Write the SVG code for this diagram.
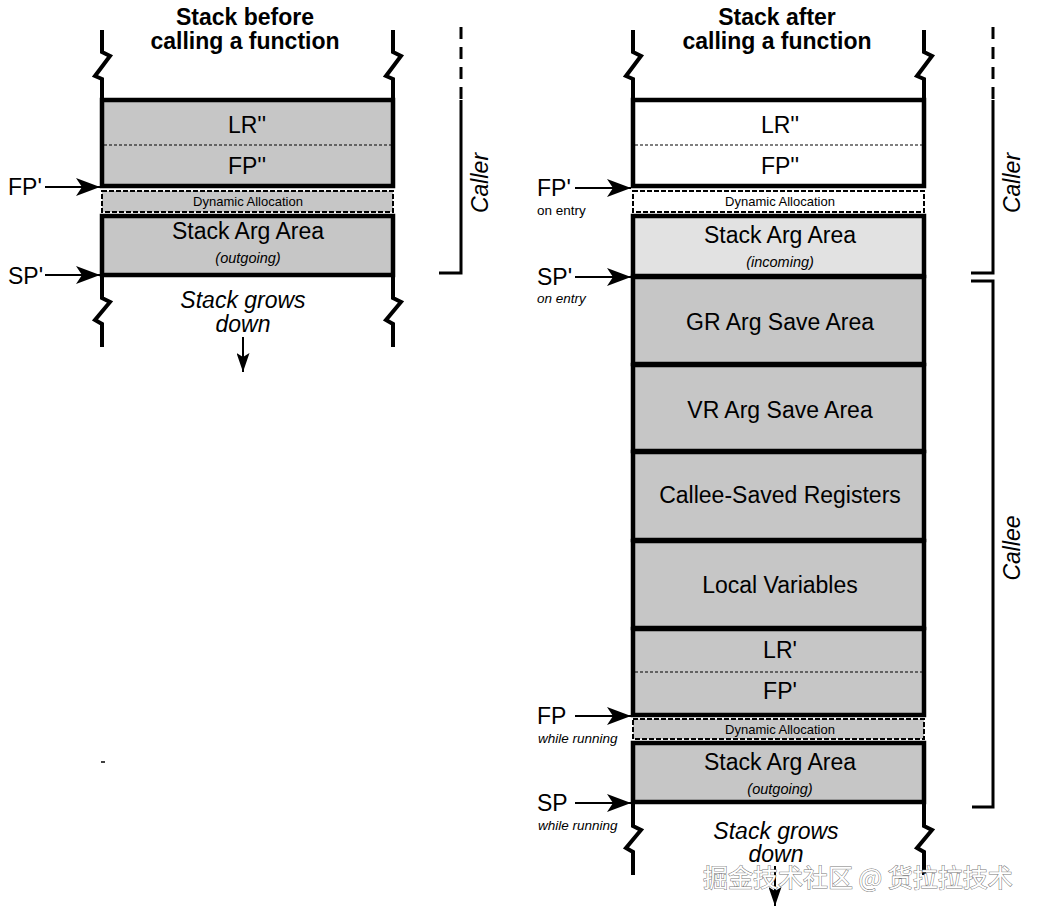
<svg xmlns="http://www.w3.org/2000/svg" width="1038" height="915" viewBox="0 0 1038 915">
<defs>
<style>
.t{font-family:"Liberation Sans",Arial,sans-serif;fill:#000}
.blk{stroke:#000;stroke-width:4.5}
.g{fill:#c6c6c6}
.lg{fill:#e2e2e2}
.w{fill:#fff}
.dyn{stroke:#000;stroke-width:2;stroke-dasharray:5 2}
.div{stroke:#000;stroke-width:1.2;stroke-dasharray:3 2;fill:none}
.wall{fill:none;stroke:#000;stroke-width:4}
.br{fill:none;stroke:#000;stroke-width:3}
.lbl{font-size:23px;text-anchor:middle}
.dl{font-size:13px;text-anchor:middle}
.sub{font-size:14.5px;text-anchor:middle;font-style:italic}
.ttl{font-size:23px;font-weight:bold;text-anchor:middle}
.ptr{font-size:23px}
.sm{font-size:13.5px}
.arr{stroke:#000;stroke-width:2;fill:none}
</style>
<marker id="ah" viewBox="0 0 24 18" refX="24" refY="9" markerWidth="24" markerHeight="18" markerUnits="userSpaceOnUse" orient="auto">
<path d="M0,0 L24,9 L0,18 L6,9 Z" fill="#000"/>
</marker>
<marker id="ahs" viewBox="0 0 13 19" refX="6.5" refY="19" markerWidth="13" markerHeight="19" markerUnits="userSpaceOnUse" orient="0">
<path d="M0,0 L6.5,4 L13,0 L6.5,19 Z" fill="#000"/>
</marker>
</defs>
<rect width="1038" height="915" fill="#fff"/>

<!-- Titles -->
<g id="title-before">
<text class="t ttl" x="245" y="25">Stack before</text>
<text class="t ttl" x="245" y="49">calling a function</text>
</g>
<g id="title-after">
<text class="t ttl" x="777" y="25">Stack after</text>
<text class="t ttl" x="777" y="49">calling a function</text>
</g>

<!-- Left stack walls -->
<g id="left-walls">
<path class="wall" d="M102,30 V52 L110,56 L95,76 L102,79 V100"/>
<path class="wall" d="M393,30 V52 L401,56 L386,76 L393,79 V100"/>
<path class="wall" d="M102,275 V298 L110,302 L95,320 L102,324 V347"/>
<path class="wall" d="M393,275 V298 L401,302 L386,320 L393,324 V347"/>
</g>

<g id="left-lr-fp">
<rect class="blk g" x="102" y="100" width="291" height="86"/>
<line class="div" x1="104" y1="145" x2="391" y2="145"/>
<text class="t lbl" x="247" y="133">LR''</text>
<text class="t lbl" x="247" y="174">FP''</text>
</g>
<g id="left-dyn">
<rect class="dyn g" x="102" y="191" width="291" height="21"/>
<text class="t dl" x="248" y="206">Dynamic Allocation</text>
</g>
<g id="left-stackarg">
<rect class="blk g" x="102" y="216" width="291" height="59"/>
<text class="t lbl" x="248" y="239">Stack Arg Area</text>
<text class="t sub" x="248" y="263">(outgoing)</text>
</g>

<g id="left-grows">
<text class="t lbl" x="243" y="308" font-style="italic">Stack grows</text>
<text class="t lbl" x="243" y="332" font-style="italic">down</text>
</g>

<g id="left-fp-label"><text class="t ptr" x="8" y="195">FP'</text></g>
<g id="left-sp-label"><text class="t ptr" x="8" y="284">SP'</text></g>

<g id="left-caller">
<text class="t ptr" font-style="italic" text-anchor="middle" transform="translate(488,183) rotate(-90)">Caller</text>
</g>

<!-- Right stack walls -->
<g id="right-walls">
<path class="wall" d="M633,30 V52 L641,56 L626,76 L633,79 V100"/>
<path class="wall" d="M924,30 V52 L932,56 L917,76 L924,79 V100"/>
<path class="wall" d="M633,802 V826 L641,830 L626,848 L633,852 V875"/>
<path class="wall" d="M924,802 V826 L932,830 L917,848 L924,852 V875"/>
</g>

<g id="right-lr-fp">
<rect class="blk w" x="633" y="100" width="291" height="86"/>
<line class="div" x1="635" y1="145" x2="922" y2="145"/>
<text class="t lbl" x="780" y="133">LR''</text>
<text class="t lbl" x="780" y="174">FP''</text>
</g>
<g id="right-dyn1">
<rect class="dyn w" x="633" y="191" width="291" height="21"/>
<text class="t dl" x="780" y="206">Dynamic Allocation</text>
</g>
<g id="right-stackarg-in">
<rect class="blk lg" x="633" y="216" width="291" height="60"/>
<text class="t lbl" x="780" y="243">Stack Arg Area</text>
<text class="t sub" x="780" y="267">(incoming)</text>
</g>
<g id="right-gr">
<rect class="blk g" x="633" y="277" width="291" height="87"/>
<text class="t lbl" x="780" y="330">GR Arg Save Area</text>
</g>
<g id="right-vr">
<rect class="blk g" x="633" y="365" width="291" height="86"/>
<text class="t lbl" x="780" y="418">VR Arg Save Area</text>
</g>
<g id="right-callee-saved">
<rect class="blk g" x="633" y="452" width="291" height="88"/>
<text class="t lbl" x="780" y="503">Callee-Saved Registers</text>
</g>
<g id="right-locals">
<rect class="blk g" x="633" y="541" width="291" height="87"/>
<text class="t lbl" x="780" y="593">Local Variables</text>
</g>
<g id="right-lr-fp2">
<rect class="blk g" x="633" y="629" width="291" height="86"/>
<line class="div" x1="635" y1="672" x2="922" y2="672"/>
<text class="t lbl" x="780" y="658">LR'</text>
<text class="t lbl" x="780" y="699">FP'</text>
</g>
<g id="right-dyn2">
<rect class="dyn g" x="633" y="719" width="291" height="20"/>
<text class="t dl" x="780" y="734">Dynamic Allocation</text>
</g>
<g id="right-stackarg-out">
<rect class="blk g" x="633" y="743" width="291" height="59"/>
<text class="t lbl" x="780" y="770">Stack Arg Area</text>
<text class="t sub" x="780" y="794">(outgoing)</text>
</g>

<g id="right-grows">
<text class="t lbl" x="776" y="839" font-style="italic">Stack grows</text>
<text class="t lbl" x="776" y="862" font-style="italic">down</text>
</g>

<g id="right-fp-entry"><text class="t ptr" x="537" y="196">FP'</text><text class="t sm" x="537" y="215">on entry</text></g>
<g id="right-sp-entry"><text class="t ptr" x="537" y="285">SP'</text><text class="t sm" x="537" y="303" font-style="italic">on entry</text></g>
<g id="right-fp-running"><text class="t ptr" x="537" y="724">FP</text><text class="t sm" x="538" y="743" font-style="italic">while running</text></g>
<g id="right-sp-running"><text class="t ptr" x="537" y="811">SP</text><text class="t sm" x="538" y="830" font-style="italic">while running</text></g>

<g id="right-caller"><text class="t ptr" font-style="italic" text-anchor="middle" transform="translate(1020,183) rotate(-90)">Caller</text></g>
<g id="right-callee"><text class="t ptr" font-style="italic" text-anchor="middle" transform="translate(1020,548) rotate(-90)">Callee</text></g>

<!-- Connectors -->
<g id="connectors">
<line class="arr" x1="45" y1="187" x2="100" y2="187" marker-end="url(#ah)"/>
<line class="arr" x1="45" y1="275" x2="100" y2="275" marker-end="url(#ah)"/>
<line class="arr" x1="575" y1="188" x2="631" y2="188" marker-end="url(#ah)"/>
<line class="arr" x1="575" y1="277" x2="631" y2="277" marker-end="url(#ah)"/>
<line class="arr" x1="575" y1="716" x2="631" y2="716" marker-end="url(#ah)"/>
<line class="arr" x1="575" y1="803" x2="631" y2="803" marker-end="url(#ah)"/>
<line class="arr" x1="243" y1="337" x2="243" y2="372" marker-end="url(#ahs)"/>
<line class="arr" x1="775" y1="866" x2="775" y2="906" marker-end="url(#ahs)"/>
<!-- brackets -->
<path class="br" d="M461,27 V100" stroke-dasharray="12 8"/>
<path class="br" d="M461,100 V273 H439"/>
<path class="br" d="M993,27 V100" stroke-dasharray="12 8"/>
<path class="br" d="M993,100 V273 H971"/>
<path class="br" d="M971,281 H993 V807 H972"/>
</g>

<g id="mark"><line x1="101" y1="762" x2="105" y2="762" stroke="#000" stroke-width="1.5"/></g>

<g id="watermark">
<text x="703" y="887" font-family="'Noto Sans CJK SC',sans-serif" font-size="25" fill="#fff" stroke="#777" stroke-width="1" paint-order="stroke">掘金技术社区 @ 货拉拉技术</text>
</g>
</svg>
